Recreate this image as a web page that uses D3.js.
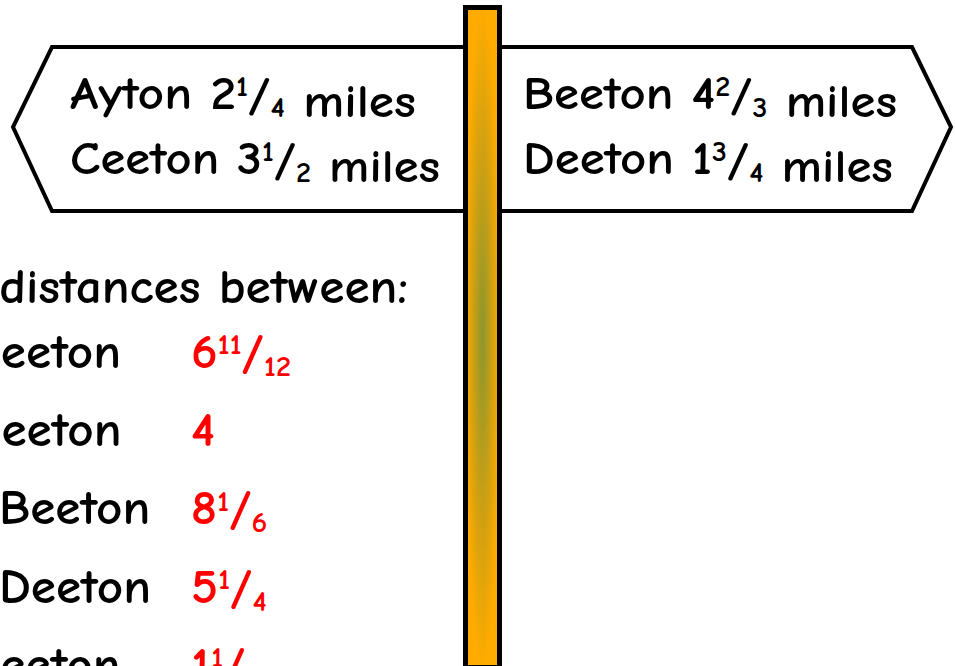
<!DOCTYPE html>
<html>
<head>
<meta charset="utf-8">
<script src="https://cdn.jsdelivr.net/npm/d3@7"></script>
<style>
  body { margin: 0; background: #fff; }
  svg text { font-family: "Comic Sans MS", "Comic Neue", "DejaVu Sans", sans-serif; font-weight: bold; }
</style>
</head>
<body>
<div id="chart-container"></div>
<script>
// signpost: two boards, one post, and a list of worked answers underneath
const svgWidth = 955;
const svgHeight = 666;

// board on the left (pointing left)
const leftTowns = ["Ayton", "Ceeton"];
const leftWhole = [2, 3];
const leftNum = [1, 1];
const leftDen = [4, 2];

// board on the right (pointing right)
const rightTowns = ["Beeton", "Deeton"];
const rightWhole = [4, 1];
const rightNum = [2, 3];
const rightDen = [3, 4];

// answers list
const pairLabels = ["Ayton and Beeton", "Ayton and Deeton", "Ceeton and Beeton", "Ceeton and Deeton", "Ayton and Ceeton"];
const pairWhole = [6, 4, 8, 5, 1];
const pairNum = [11, null, 1, 1, 1];
const pairDen = [12, null, 6, 4, 4];

const svg = d3.select("#chart-container")
    .append("svg")
    .attr("width", svgWidth)
    .attr("height", svgHeight);

const defs = svg.append("defs");
const grad = defs.append("radialGradient")
    .attr("id", "postFill")
    .attr("cx", 0.5).attr("cy", 0.5).attr("r", 0.5);
grad.append("stop").attr("offset", "0%").attr("stop-color", "#8c962e");
grad.append("stop").attr("offset", "55%").attr("stop-color", "#cfa012");
grad.append("stop").attr("offset", "100%").attr("stop-color", "#ffab00");

// board lines sit on a small linear scale (line index -> baseline)
const lineY = d3.scaleLinear().domain([0, 1]).range([109, 174]);
const boardTop = 47, boardBottom = 211, tipY = 127;

// left board
svg.append("path")
    .attr("d", d3.line()([[466, boardTop], [52, boardTop], [13, tipY], [52, boardBottom], [466, boardBottom]]) + "Z")
    .attr("fill", "#fff")
    .attr("stroke", "#000")
    .attr("stroke-width", 4);

// right board
svg.append("path")
    .attr("d", d3.line()([[498, boardTop], [912, boardTop], [951, tipY], [912, boardBottom], [498, boardBottom]]) + "Z")
    .attr("fill", "#fff")
    .attr("stroke", "#000")
    .attr("stroke-width", 4);

// post
svg.append("rect")
    .attr("x", 465.5).attr("y", 7.5)
    .attr("width", 34).attr("height", 660)
    .attr("fill", "url(#postFill)")
    .attr("stroke", "#000")
    .attr("stroke-width", 5);

function mixed(sel, whole, num, den, size) {
    sel.append("tspan").text(whole);
    if (num == null) return;
    const small = Math.round(size * 0.6);
    sel.append("tspan").attr("font-size", small).attr("dy", -size * 0.28).text(num);
    sel.append("tspan").attr("dy", size * 0.28).text("/");
    sel.append("tspan").attr("font-size", small).attr("dy", size * 0.16).text(den);
    sel.append("tspan").attr("dy", -size * 0.16).text("");
}

// sign lines, stretched to the widths in the picture
const signSize = 47;
function signLine(x, y, town, w, n, d, width) {
    const tx = svg.append("text")
        .attr("x", x).attr("y", y)
        .attr("font-size", signSize)
        .attr("fill", "#000");
    tx.append("tspan").text(town + " ");
    mixed(tx, w, n, d, signSize);
    tx.append("tspan").text(" miles");
    tx.attr("textLength", width).attr("lengthAdjust", "spacingAndGlyphs");
}
const leftWidths = [346, 370];
const rightWidths = [374, 370];
leftTowns.forEach((t, i) => signLine(70, lineY(i), t, leftWhole[i], leftNum[i], leftDen[i], leftWidths[i]));
rightTowns.forEach((t, i) => signLine(523, lineY(i), t, rightWhole[i], rightNum[i], rightDen[i], rightWidths[i]));

// answers list, in a group stretched sideways so the font matches the width
const listSize = 49;
const list = svg.append("g");

// measure the visible part of the heading to find the stretch
const probe = list.append("text").attr("font-size", listSize).text("distances between:");
const sx = 409 / probe.node().getComputedTextLength();
probe.remove();
list.attr("transform", `scale(${sx},1)`);

list.append("text")
    .attr("x", 408 / sx).attr("y", 303)
    .attr("text-anchor", "end")
    .attr("font-size", listSize)
    .attr("fill", "#000")
    .text("Find the distances between:");

const rowY = d3.scaleLinear().domain([0, 4]).range([368, 681]);

const probe2 = list.append("text").attr("font-size", listSize).text(pairLabels[0]);
const labelX = 121 / sx - probe2.node().getComputedTextLength();
probe2.remove();

pairLabels.forEach((lab, i) => {
    list.append("text")
        .attr("x", labelX)
        .attr("y", rowY(i))
        .attr("font-size", listSize)
        .attr("fill", "#000")
        .text(lab);
    const v = list.append("text")
        .attr("x", 191 / sx).attr("y", rowY(i))
        .attr("font-size", listSize)
        .attr("fill", "#ff0000");
    mixed(v, pairWhole[i], pairNum[i], pairDen[i], listSize);
});
</script>
</body>
</html>
